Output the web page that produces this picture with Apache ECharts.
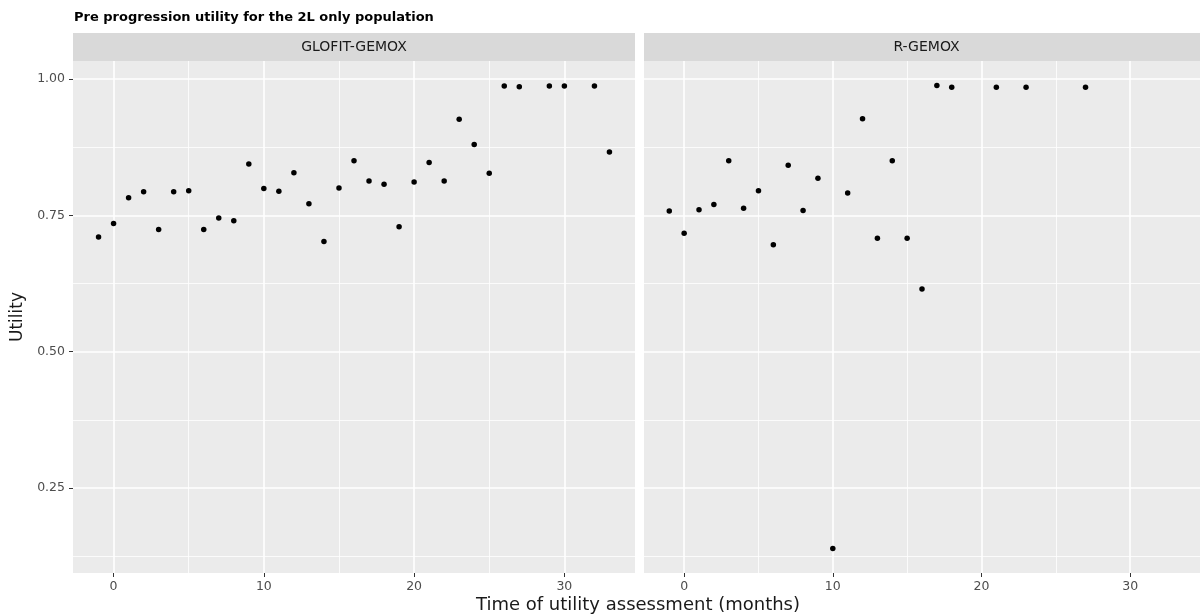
<!DOCTYPE html>
<html>
<head>
<meta charset="utf-8">
<script src="https://cdn.jsdelivr.net/npm/echarts@6/dist/echarts.min.js"></script>
<style>
  html, body { margin: 0; padding: 0; background: #fff; }
  #chart { width: 1200px; height: 615px; }
</style>
</head>
<body>
<div id="chart"></div>
<script>
  // panel names
  const panels = ['GLOFIT-GEMOX', 'R-GEMOX'];

  // GLOFIT-GEMOX: month / utility
  const glofitMonths = [-1, 0, 1, 2, 3, 4, 5, 6, 7, 8, 9, 10, 11, 12, 13, 14, 15, 16, 17, 18, 19, 20, 21, 22, 23, 24, 25, 26, 27, 29, 30, 32, 33];
  const glofitUtility = [0.710, 0.735, 0.782, 0.793, 0.724, 0.793, 0.795, 0.724, 0.745, 0.740, 0.844, 0.799, 0.794, 0.828, 0.771, 0.702, 0.800, 0.850, 0.813, 0.807, 0.729, 0.811, 0.847, 0.813, 0.926, 0.880, 0.827, 0.987, 0.986, 0.987, 0.987, 0.987, 0.866];

  // R-GEMOX: month / utility
  const rgemoxMonths = [-1, 0, 1, 2, 3, 4, 5, 6, 7, 8, 9, 10, 11, 12, 13, 14, 15, 16, 17, 18, 21, 23, 27];
  const rgemoxUtility = [0.758, 0.717, 0.760, 0.770, 0.850, 0.763, 0.795, 0.696, 0.842, 0.759, 0.818, 0.139, 0.791, 0.927, 0.708, 0.850, 0.708, 0.615, 0.988, 0.985, 0.985, 0.985, 0.985];

  // axis ticks
  const xTicks = [0, 10, 20, 30];
  const xMinor = [5, 15, 25];
  const yTicks = [0.25, 0.5, 0.75, 1.0];
  const yMinor = [0.125, 0.375, 0.625, 0.875];

  const font = 'DejaVu Sans';
  const panelBox = [
    { left: 73, width: 562 },
    { left: 644, width: 565 }
  ];
  const plotTop = 61, plotHeight = 512;

  let chart = echarts.init(document.getElementById('chart'));

  const zip = (xs, ys) => xs.map((x, i) => [x, ys[i]]);

  const grids = panelBox.map(p => ({
    left: p.left, width: p.width, top: plotTop, height: plotHeight,
    show: true, backgroundColor: '#ebebeb', borderWidth: 0
  }));

  const xAxes = [];
  const yAxes = [];
  panelBox.forEach((p, i) => {
    xAxes.push({
      type: 'value', gridIndex: i, min: -2.7, max: 34.7,
      axisLine: { show: false, onZero: false },
      axisTick: { show: true, customValues: xTicks, length: 4, lineStyle: { color: '#333', width: 1 } },
      axisLabel: { customValues: xTicks, color: '#4d4d4d', fontSize: 12.5, fontFamily: font, margin: 7 },
      splitLine: { show: true, lineStyle: { color: '#fff', width: 1.6 } }
    });
    // minor x lines
    xAxes.push({
      type: 'value', gridIndex: i, min: -2.7, max: 34.7,
      axisLine: { show: false, onZero: false },
      axisTick: { show: false, customValues: xMinor },
      axisLabel: { show: false, customValues: xMinor },
      splitLine: { show: true, lineStyle: { color: '#fff', width: 0.8 } }
    });
    yAxes.push({
      type: 'value', gridIndex: i, min: 0.094, max: 1.033,
      name: i === 0 ? 'Utility' : '',
      nameLocation: 'middle', nameGap: 47, nameRotate: 90,
      nameTextStyle: { color: '#1a1a1a', fontSize: 17, fontFamily: font },
      axisLine: { show: false, onZero: false },
      axisTick: { show: i === 0, customValues: yTicks, length: 4, lineStyle: { color: '#333', width: 1 } },
      axisLabel: {
        show: i === 0, customValues: yTicks, color: '#4d4d4d', fontSize: 12.5, fontFamily: font, margin: 8,
        formatter: v => v.toFixed(2)
      },
      splitLine: { show: true, lineStyle: { color: '#fff', width: 1.6 } }
    });
    // minor y lines
    yAxes.push({
      type: 'value', gridIndex: i, min: 0.094, max: 1.033,
      axisLine: { show: false, onZero: false },
      axisTick: { show: false, customValues: yMinor },
      axisLabel: { show: false, customValues: yMinor },
      splitLine: { show: true, lineStyle: { color: '#fff', width: 0.8 } }
    });
  });

  const strips = [];
  panelBox.forEach((p, i) => {
    strips.push({
      type: 'rect', left: p.left, top: 33,
      shape: { width: p.width, height: 28 },
      style: { fill: '#d9d9d9' }, z: 0
    });
    strips.push({
      type: 'text', x: p.left + p.width / 2, y: 47,
      style: { text: panels[i], fill: '#1a1a1a', font: '14px "DejaVu Sans"', align: 'center', verticalAlign: 'middle' },
      z: 1
    });
  });

  chart.setOption({
    animation: false,
    title: {
      text: 'Pre progression utility for the 2L only population',
      left: 74, top: 11, padding: 0,
      textStyle: { fontSize: 13, fontWeight: 'bold', color: '#000', fontFamily: font }
    },
    grid: grids,
    xAxis: xAxes,
    yAxis: yAxes,
    graphic: strips.concat([{
      type: 'text', x: 638, y: 605,
      style: { text: 'Time of utility assessment (months)', fill: '#1a1a1a', font: '18px "DejaVu Sans"', align: 'center', verticalAlign: 'middle' }
    }]),
    series: [
      {
        name: panels[0], type: 'scatter', xAxisIndex: 0, yAxisIndex: 0,
        symbolSize: 5.5, itemStyle: { color: '#000', opacity: 1 },
        data: zip(glofitMonths, glofitUtility)
      },
      {
        name: panels[1], type: 'scatter', xAxisIndex: 2, yAxisIndex: 2,
        symbolSize: 5.5, itemStyle: { color: '#000', opacity: 1 },
        data: zip(rgemoxMonths, rgemoxUtility)
      }
    ]
  });
</script>
</body>
</html>
